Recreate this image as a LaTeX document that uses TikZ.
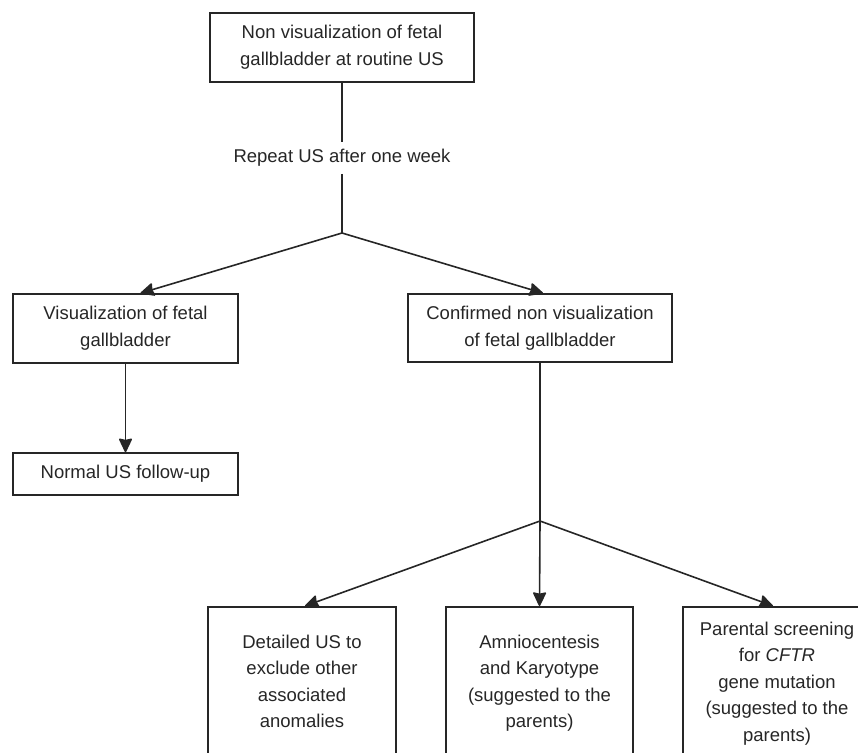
\documentclass[tikz,border=0pt]{standalone}
\usepackage{fontspec}
\setmainfont{Liberation Sans}
\usetikzlibrary{arrows.meta,calc}
\tikzset{
  ln/.style={line width=1.6pt, draw=black!85},
  box/.style={ln, rectangle, inner sep=0pt, font=\fontsize{18.5}{27}\selectfont, align=center, text=black!85},
  txt/.style={inner sep=0pt, font=\fontsize{18.5}{26.5}\selectfont, align=center, text=black!85},
  arr/.style={ln, arrows={-Stealth[length=15pt,width=14pt,inset=1.5pt,round]}}
}
\begin{document}
\begin{tikzpicture}[x=1pt,y=-1pt]
\useasboundingbox (0,0) rectangle (858,752);
\clip (0,0) rectangle (858,752);
\node[box, minimum width=264, minimum height=69] (A) at (342,47.5) {Non visualization of fetal\\gallbladder at routine US};
\node[txt, fill=white, inner xsep=3pt, inner ysep=7pt] (rep) at (342,158) {Repeat US after one week};
\coordinate (J1) at (342,233);
\draw[ln] (A.south) -- (rep.north);
\draw[ln] (rep.south) -- (J1);
\node[box, minimum width=225, minimum height=69] (L) at (125.5,328.5) {Visualization of fetal\\gallbladder};
\node[box, minimum width=264, minimum height=68] (R) at (540,328) {Confirmed non visualization\\of fetal gallbladder};
\draw[arr] (J1) -- ([xshift=15pt]L.north);
\draw[arr] (J1) -- ([xshift=3pt]R.north);
\node[box, minimum width=225, minimum height=42] (N) at (125.5,474) {Normal US follow-up};
\draw[arr] (L.south) -- (N.north);
\coordinate (J2) at (540,521);
\draw[ln] (R.south) -- (J2);
\node[box, anchor=north, minimum width=188, minimum height=200] (B1) at (302,606) {};
\node[box, anchor=north, minimum width=187, minimum height=200] (B2) at (539.5,606) {};
\node[box, anchor=north, minimum width=188, minimum height=200] (B3) at (777,606) {};
\node[txt, anchor=north] (B1t) at (302,634.5) {Detailed US to\\exclude other\\associated\\anomalies};
\node[txt, anchor=north] (B2t) at (539.5,634.5) {Amniocentesis\\and Karyotype\\(suggested to the\\parents)};
\node[txt, anchor=north] (B3t) at (777,621.5) {Parental screening\\for \textit{CFTR}\\gene mutation\\(suggested to the\\parents)};
\draw[arr] (J2) -- ([xshift=3pt]B1.north);
\draw[arr] (J2) -- (B2.north);
\draw[arr] (J2) -- ([xshift=-4pt]B3.north);
\end{tikzpicture}
\end{document}
